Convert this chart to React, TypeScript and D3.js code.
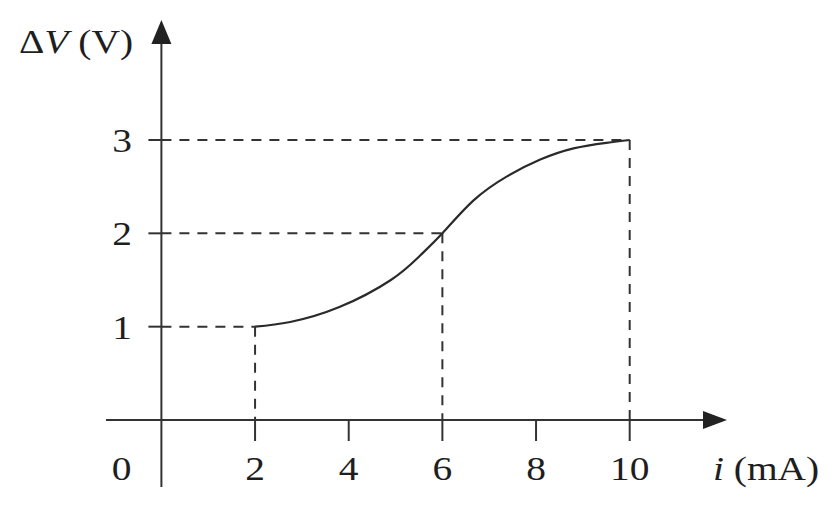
import React from 'react'
import * as d3 from 'd3'

// curve: current (mA) -> voltage (V)
const curveI = [2, 2.75, 3.8, 4.9, 5.5, 6, 6.66, 7.38, 8.09, 8.8, 9.5, 10]
const curveV = [1, 1.05, 1.21, 1.5, 1.75, 2, 2.35, 2.61, 2.79, 2.91, 2.97, 3]

const xTicks = [2, 4, 6, 8, 10]
const yTicks = [1, 2, 3]
// guide points marked with dashed lines
const markI = [2, 6, 10]
const markV = [1, 2, 3]

const W = 840
const H = 508
const ink = '#333'
const font = "'Liberation Serif', Tinos, Times, serif"
const stretch = 'scale(1.16,1)' // the source type is a bit wide

const App: React.FC = () => {
  const x = d3.scaleLinear().domain([0, 10]).range([161.4, 629.7])
  const y = d3.scaleLinear().domain([0, 3]).range([420, 140])
  const x0 = x(0)
  const y0 = y(0)

  const pts: [number, number][] = curveI.map((d, i) => [d, curveV[i]])
  const line = d3
    .line<[number, number]>()
    .x(d => x(d[0]))
    .y(d => y(d[1]))
    .curve(d3.curveNatural)

  return (
    <svg width={W} height={H} style={{ position: 'absolute', left: 0, top: 0, background: '#fff' }}>
      {/* dashed guides */}
      <g stroke={ink} strokeWidth={2} strokeDasharray="10,8" fill="none">
        {markI.map((d, i) => (
          <g key={d}>
            <line x1={x0} x2={x(d)} y1={y(markV[i])} y2={y(markV[i])} />
            <line x1={x(d)} x2={x(d)} y1={y(markV[i])} y2={y0} />
          </g>
        ))}
      </g>

      {/* axes */}
      <g stroke={ink} strokeWidth={2}>
        <line x1={106} x2={706} y1={y0} y2={y0} />
        <line x1={x0} x2={x0} y1={487} y2={40} />
        {xTicks.map(d => (
          <line key={d} x1={x(d)} x2={x(d)} y1={y0} y2={y0 + 21} />
        ))}
        {yTicks.map(d => (
          <line key={d} x1={x0 - 13} x2={x0} y1={y(d)} y2={y(d)} />
        ))}
      </g>
      <path d={`M727,${y0} L703,${y0 - 9} L703,${y0 + 9} Z`} fill="#222" />
      <path d={`M${x0},20 L${x0 - 10},44 L${x0 + 10},44 Z`} fill="#222" />

      {/* curve */}
      <path d={line(pts) || ''} fill="none" stroke="#2a2a2a" strokeWidth={2.2} />

      {/* labels */}
      <g style={{ fontFamily: font, fontSize: 34 }} fill="#1e1e1e">
        <text transform={`translate(121.7,480) ${stretch}`} textAnchor="middle">0</text>
        {xTicks.map(d => (
          <text key={d} transform={`translate(${x(d)},480) ${stretch}`} textAnchor="middle">
            {d}
          </text>
        ))}
        {yTicks.map(d => (
          <text key={d} transform={`translate(122,${y(d) + 12}) ${stretch}`} textAnchor="middle">
            {d}
          </text>
        ))}
        <text transform={`translate(19,53) ${stretch}`}>
          Δ<tspan fontStyle="italic">V</tspan> (V)
        </text>
        <text transform={`translate(713,480) ${stretch}`}>
          <tspan fontStyle="italic">i</tspan> (mA)
        </text>
      </g>
    </svg>
  )
}

export default App
